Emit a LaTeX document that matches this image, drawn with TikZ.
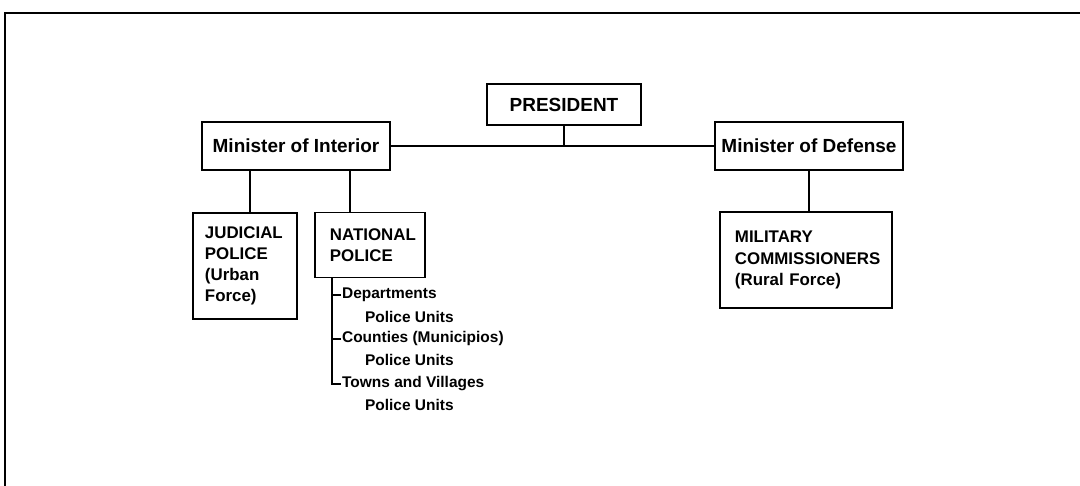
\documentclass[tikz,border=0pt]{standalone}
\usepackage{fontspec}
\setmainfont{Liberation Sans}
\usetikzlibrary{positioning}

\tikzset{
  orgbox/.style={draw, line width=1.2pt, align=left, inner sep=0pt,
    font=\bfseries\fontsize{12}{15}\selectfont},
  headbox/.style={draw, line width=1.2pt, align=center, inner sep=0pt,
    minimum width=4.7cm, minimum height=1.2cm,
    font=\bfseries\fontsize{13.5}{16}\selectfont},
  leaf/.style={anchor=west, inner sep=0.6pt, text height=8pt, text depth=2.5pt,
    font=\bfseries\fontsize{11}{13}\selectfont},
  link/.style={line width=1.2pt}
}

\begin{document}
\begin{tikzpicture}[x=0.025cm, y=-0.025cm]
    \useasboundingbox (0,0) rectangle (1080,486);

    % frame
    \draw[line width=2pt] (5,486) -- (5,13) -- (1080,13);

    \node[headbox, minimum width=3.85cm, minimum height=1.025cm] (pres) at (564,104.5) {PRESIDENT};
    \node[headbox] (interior) at (296,146) {Minister of Interior};
    \node[headbox] (defense) at (809,146) {Minister of Defense};

    \node[orgbox, text width=2.0cm, inner xsep=0.3cm, minimum height=2.65cm] (judicial) at (245,266)
      {JUDICIAL\\POLICE\\(Urban\\Force)};
    \node[orgbox, text width=2.0cm, inner xsep=0.375cm, minimum height=1.625cm] (natpol) at (370,245)
      {NATIONAL\\POLICE};
    \node[orgbox, text width=3.55cm, inner xsep=0.375cm, minimum height=2.4cm] (military) at (806,260)
      {MILITARY\\COMMISSIONERS\\(Rural Force)};

    \node[leaf] (dept) at (341,295) {Departments};
    \node[leaf] (deptunits) at (364,319) {Police Units};
    \node[leaf] (cnty) at (341,339) {Counties (Municipios)};
    \node[leaf] (cntyunits) at (364,362) {Police Units};
    \node[leaf] (towns) at (341,384) {Towns and Villages};
    \node[leaf] (townsunits) at (364,407) {Police Units};

    \coordinate (jline) at (250,0);
    \coordinate (nline) at (350,0);
    \coordinate (trunk) at (332,0);

    \draw[link] (pres.south) -- (pres.south |- interior.east);
    \draw[link] (interior.east) -- (defense.west);
    \draw[link] (interior.south -| jline) -- (judicial.north -| jline);
    \draw[link] (interior.south -| nline) -- (natpol.north -| nline);
    \draw[link] (defense.south) -- (defense.south |- military.north);

    \draw[link] (natpol.south -| trunk) |- (towns.west);
    \draw[link] (trunk |- dept.west) -- (dept.west);
    \draw[link] (trunk |- cnty.west) -- (cnty.west);
\end{tikzpicture}
\end{document}
